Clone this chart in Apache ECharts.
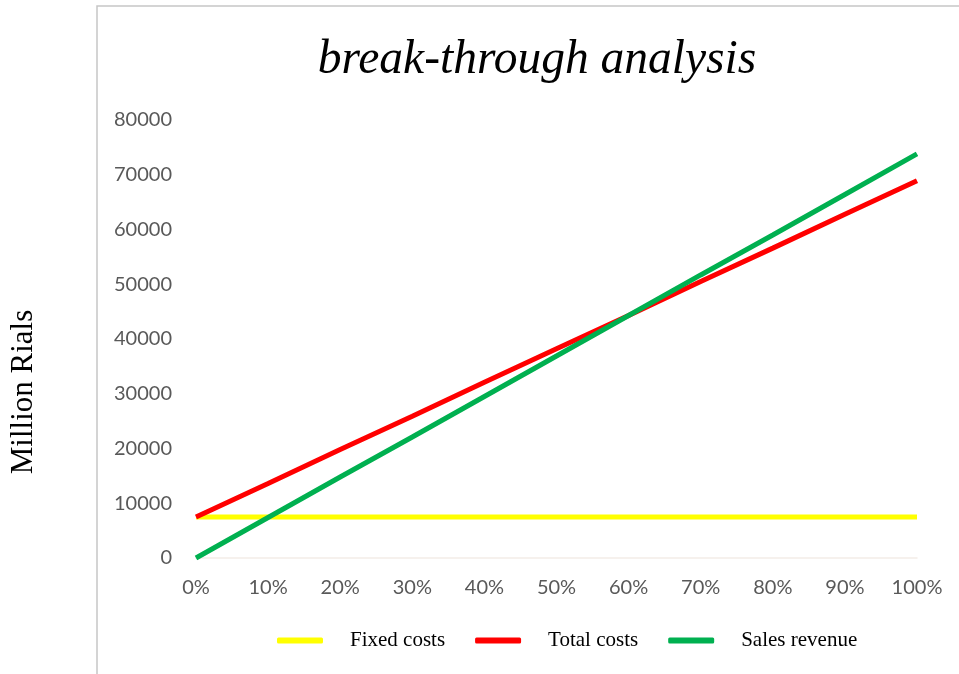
<!DOCTYPE html>
<html>
<head>
<meta charset="utf-8">
<script src="https://cdn.jsdelivr.net/npm/echarts@6/dist/echarts.min.js"></script>
<style>
  html, body { margin: 0; padding: 0; background: #fff; }
  #chart { width: 959px; height: 674px; }
</style>
</head>
<body>
<div id="chart"></div>
<script>
var levels = ['0%', '10%', '20%', '30%', '40%', '50%', '60%', '70%', '80%', '90%', '100%'];
var fixedCosts = [7500, 7500, 7500, 7500, 7500, 7500, 7500, 7500, 7500, 7500, 7500];
var totalCosts = [7500, 13600, 19800, 25900, 32100, 38200, 44300, 50500, 56600, 62800, 68900];
var salesRevenue = [0, 7400, 14800, 22100, 29500, 36900, 44300, 51700, 59000, 66400, 73800];

var chart = echarts.init(document.getElementById('chart'));
var option = {
    backgroundColor: '#fff',
    animation: false,
    graphic: [{
        type: 'rect',
        shape: { x: 97, y: 6, width: 900, height: 700 },
        style: { fill: 'none', stroke: '#c6c6c6', lineWidth: 1.5 },
        silent: true
    }, {
        // y axis title, sits lower than the plot centre in the original
        type: 'text',
        x: 24,
        y: 392,
        rotation: Math.PI / 2,
        style: {
            text: 'Million Rials',
            fontFamily: 'Liberation Serif',
            fontSize: 31,
            fill: '#000',
            align: 'center',
            verticalAlign: 'middle'
        },
        silent: true
    }],
    title: {
        text: 'break-through analysis',
        left: 532,
        textAlign: 'center',
        top: 32,
        textStyle: {
            fontFamily: 'Liberation Serif',
            fontStyle: 'italic',
            fontWeight: 'normal',
            fontSize: 47.5,
            color: '#000'
        }
    },
    legend: {
        top: 625,
        left: 272,
        itemWidth: 46,
        itemHeight: 6,
        itemGap: 30,
        textStyle: {
            fontFamily: 'Liberation Serif',
            fontSize: 21,
            color: '#000',
            padding: [0, 0, 0, 22]
        },
        data: [
            { name: 'Fixed costs', icon: 'roundRect' },
            { name: 'Total costs', icon: 'roundRect' },
            { name: 'Sales revenue', icon: 'roundRect' }
        ]
    },
    grid: {
        left: 196,
        right: 42,
        top: 120,
        bottom: 116
    },
    xAxis: {
        type: 'category',
        boundaryGap: false,
        data: levels,
        axisLine: { lineStyle: { color: '#f3ede8', width: 1.5 } },
        axisTick: { show: false },
        axisLabel: {
            margin: 20,
            fontFamily: 'Lato',
            fontSize: 20,
            color: '#595959'
        }
    },
    yAxis: {
        type: 'value',
        min: 0,
        max: 80000,
        interval: 10000,
        splitLine: { show: false },
        axisLine: { show: false },
        axisTick: { show: false },
        axisLabel: {
            margin: 24,
            fontFamily: 'Lato',
            fontSize: 20,
            color: '#595959',
            formatter: function (v) { return String(v); }
        }
    },
    series: [{
        name: 'Fixed costs',
        type: 'line',
        data: fixedCosts,
        symbol: 'none',
        color: '#ffff00',
        lineStyle: { width: 5, color: '#ffff00' }
    }, {
        name: 'Total costs',
        type: 'line',
        data: totalCosts,
        symbol: 'none',
        color: '#ff0000',
        lineStyle: { width: 5, color: '#ff0000' }
    }, {
        name: 'Sales revenue',
        type: 'line',
        data: salesRevenue,
        symbol: 'none',
        color: '#00b050',
        lineStyle: { width: 5, color: '#00b050' }
    }]
};
chart.setOption(option);
</script>
</body>
</html>
